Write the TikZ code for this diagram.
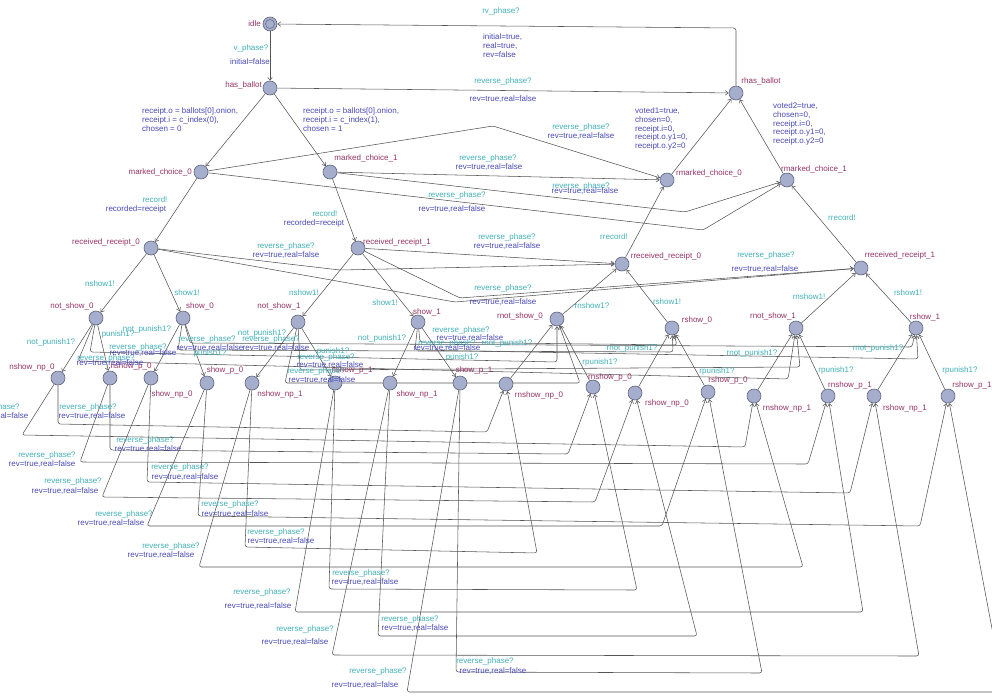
\documentclass[tikz,border=0pt]{standalone}
\usepackage{fontspec}
\setmainfont{Liberation Sans}
\usetikzlibrary{arrows.meta}
\pgfdeclarelayer{bg}
\pgfsetlayers{bg,main}
\definecolor{locfill}{RGB}{166,174,206}
\definecolor{locline}{RGB}{95,100,125}
\definecolor{locname}{RGB}{150,50,100}
\definecolor{synccol}{RGB}{64,176,184}
\definecolor{updcol}{RGB}{72,72,184}
\definecolor{edgecol}{RGB}{85,85,85}
% a reverse_phase? transition label: sync text and update text
\newcommand\revlab[3]{%
  \node[sy] (#1s) at (#2) {reverse\_phase?};
  \node[up] (#1u) at (#3) {rev=true,real=false};}
\begin{document}
\begin{tikzpicture}[x=1pt,y=-1pt,
  font=\fontsize{8}{8.6}\selectfont,
  loc/.style={circle,draw=locline,fill=locfill,line width=0.6pt,minimum size=14pt,inner sep=0pt},
  nm/.style={text=locname,inner sep=0pt},
  sy/.style={text=synccol,inner sep=0pt},
  up/.style={text=updcol,inner sep=0pt,align=left},
  tr/.style={draw=edgecol,line width=0.55pt,-{Straight Barb[length=3pt,width=4.5pt]}},
  lp/.style={tr,rounded corners=2.5pt}]
\useasboundingbox (0,0) rectangle (992,696);
\clip (0,0) rectangle (992,696);

% ---------- forward locations ----------
\node[loc] (idle) at (270,24) {};
\node[circle,draw=locline,line width=0.5pt,minimum size=9pt,inner sep=0pt] (idlec) at (270,24) {};
\node[loc] (hb)   at (270,88) {};
\node[loc] (mc0)  at (201,172) {};
\node[loc] (mc1)  at (330,172) {};
\node[loc] (rr0)  at (151,248) {};
\node[loc] (rr1)  at (358,248) {};
\node[loc] (ns0)  at (96,318) {};
\node[loc] (s0)   at (183,318) {};
\node[loc] (ns1)  at (298,322) {};
\node[loc] (s1)   at (418,322) {};
\node[loc] (nnp0) at (58,378) {};
\node[loc] (np0)  at (110,378) {};
\node[loc] (snp0) at (151,378) {};
\node[loc] (sp0)  at (207,383) {};
\node[loc] (nnp1) at (252,383) {};
\node[loc] (np1)  at (335,383) {};
\node[loc] (snp1) at (390,383) {};
\node[loc] (sp1)  at (460,383) {};
% ---------- reverse locations ----------
\node[loc] (rhb)   at (736,93) {};
\node[loc] (rmc0)  at (667,180) {};
\node[loc] (rmc1)  at (787,180) {};
\node[loc] (rrr0)  at (622,264) {};
\node[loc] (rrr1)  at (861,268) {};
\node[loc] (rns0)  at (557,319) {};
\node[loc] (rs0)   at (672,328) {};
\node[loc] (rns1)  at (796,328) {};
\node[loc] (rs1)   at (916,328) {};
\node[loc] (rnnp0) at (506,384) {};
\node[loc] (rnp0)  at (593,387) {};
\node[loc] (rsnp0) at (635,393) {};
\node[loc] (rsp0)  at (708,392) {};
\node[loc] (rnnp1) at (754,396) {};
\node[loc] (rnp1)  at (828,396) {};
\node[loc] (rsnp1) at (874,396) {};
\node[loc] (rsp1)  at (948,396) {};

% ---------- location names ----------
\node[nm,anchor=east] (tidle) at (261,24) {idle};
\node[nm,anchor=east] (thb) at (262,85) {has\_ballot};
\node[nm,anchor=east] (tmc0) at (192,172) {marked\_choice\_0};
\node[nm] (tmc1) at (366,158) {marked\_choice\_1};
\node[nm] (trr0) at (106,242) {received\_receipt\_0};
\node[nm] (trr1) at (397,242) {received\_receipt\_1};
\node[nm] (tns0) at (72,306) {not\_show\_0};
\node[nm] (ts0) at (200,306) {show\_0};
\node[nm] (tns1) at (279,306) {not\_show\_1};
\node[nm] (ts1) at (427,312) {show\_1};
\node[nm] (tnnp0) at (32,367) {nshow\_np\_0};
\node[nm] (tnp0) at (131,366) {nshow\_p\_0};
\node[nm] (tsnp0) at (172,394) {show\_np\_0};
\node[nm] (tsp0) at (225,370) {show\_p\_0};
\node[nm] (tnnp1) at (280,394) {nshow\_np\_1};
\node[nm] (tnp1) at (352,370) {nshow\_p\_1};
\node[nm] (tsnp1) at (417,394) {show\_np\_1};
\node[nm] (tsp1) at (474,370) {show\_p\_1};
\node[nm] (trhb) at (761,81) {rhas\_ballot};
\node[nm] (trmc0) at (709,173) {rmarked\_choice\_0};
\node[nm] (trmc1) at (814,169) {rmarked\_choice\_1};
\node[nm] (trrr0) at (666,256) {rreceived\_receipt\_0};
\node[nm] (trrr1) at (900,255) {rreceived\_receipt\_1};
\node[nm] (trns0) at (520,316) {rnot\_show\_0};
\node[nm] (trs0) at (697,320) {rshow\_0};
\node[nm] (trns1) at (773,316) {rnot\_show\_1};
\node[nm] (trs1) at (925,317) {rshow\_1};
\node[nm] (trnnp0) at (539,395) {rnshow\_np\_0};
\node[nm] (trnp0) at (610,377) {rnshow\_p\_0};
\node[nm] (trsnp0) at (667,403) {rshow\_np\_0};
\node[nm] (trsp0) at (728,380) {rshow\_p\_0};
\node[nm] (trnnp1) at (787,408) {rnshow\_np\_1};
\node[nm] (trnp1) at (850,385) {rnshow\_p\_1};
\node[nm] (trsnp1) at (905,408) {rshow\_np\_1};
\node[nm] (trsp1) at (972,385) {rshow\_p\_1};

% ---------- transition labels ----------
\node[sy] (l1) at (251,48) {v\_phase?};
\node[up] (l2) at (250,62) {initial=false};
\node[up,anchor=north west] (l3) at (142,108) {receipt.o = ballots[0].onion,\\receipt.i = c\_index(0),\\chosen = 0};
\node[up,anchor=north west] (l4) at (303,108) {receipt.o = ballots[0].onion,\\receipt.i = c\_index(1),\\chosen = 1};
\node[sy] (l5) at (155,200) {record!};
\node[up] (l6) at (136,209) {recorded=receipt};
\node[sy] (l7) at (325,214) {record!};
\node[up] (l8) at (314,223) {recorded=receipt};
\node[sy] (l9) at (100,284) {nshow1!};
\node[sy] (l10) at (187,293) {show1!};
\node[sy] (l11) at (304,293) {nshow1!};
\node[sy] (l12) at (385,303) {show1!};
\node[sy] (l13) at (51,342) {not\_punish1?};
\node[sy] (l14) at (118,334) {punish1?};
\node[sy] (l15) at (147,329) {not\_punish1?};
\node[sy] (l16) at (210,353) {punish1?};
\node[sy] (l17) at (262,333) {not\_punish1?};
\node[sy] (l18) at (333,351) {punish1?};
\node[sy] (l19) at (382,338) {not\_punish1?};
\node[sy] (l20) at (462,357) {punish1?};
\node[sy] (l21) at (501,11) {rv\_phase?};
\node[up,anchor=north west] (l22) at (483,34) {initial=true,\\real=true,\\rev=false};
\node[up,anchor=north west] (l23) at (635,108) {voted1=true,\\chosen=0,\\receipt.i=0,\\receipt.o.y1=0,\\receipt.o.y2=0};
\node[up,anchor=north west] (l24) at (773,103) {voted2=true,\\chosen=0,\\receipt.i=0,\\receipt.o.y1=0,\\receipt.o.y2=0};
\node[sy] (l25) at (614,237) {rrecord!};
\node[sy] (l26) at (842,218) {rrecord!};
\node[sy] (l27) at (592,306) {rnshow1?};
\node[sy] (l28) at (667,302) {rshow1!};
\node[sy] (l29) at (809,297) {rnshow1!};
\node[sy] (l30) at (908,293) {rshow1!};
\node[sy] (l31) at (507,343) {rnot\_punish1?};
\node[sy] (l32) at (600,362) {rpunish1?};
\node[sy] (l33) at (632,348) {rnot\_punish1?};
\node[sy] (l34) at (717,371) {rpunish1?};
\node[sy] (l35) at (752,353) {rnot\_punish1?};
\node[sy] (l36) at (836,370) {rpunish1?};
\node[sy] (l37) at (878,348) {rnot\_punish1?};
\node[sy] (l38) at (960,370) {rpunish1?};
% reverse_phase? labels
\revlab{ra}{503,81}{503,99}
\revlab{rb}{581,127}{581,136}
\revlab{rc}{488,158}{489,167}
\revlab{rd}{581,186}{585,191}
\revlab{re}{457,195}{452,209}
\revlab{rf}{286,246}{286,255}
\revlab{rg}{507,237}{507,246}
\revlab{rh}{503,288}{503,302}
\revlab{ri}{766,255}{765,269}
\revlab{bA}{106,358}{110,363}
\revlab{bB}{138,347}{143,353}
\revlab{bC}{207,339}{210,348}
\revlab{bD}{271,339}{276,348}
\revlab{bE}{326,357}{330,365}
\revlab{bF}{316,371}{322,380}
\revlab{bG}{461,330}{470,338}
\revlab{bH}{447,343}{447,348}
\revlab{q1}{-9,407}{-5,416}
\revlab{q2}{88,407}{92,416}
\revlab{q3}{145,440}{148,449}
\revlab{q4}{47,455}{42,464}
\revlab{q5}{73,481}{65,491}
\revlab{q6}{180,467}{185,477}
\revlab{q7}{124,514}{111,523}
\revlab{q8}{230,504}{235,514}
\revlab{q9}{171,546}{161,555}
\revlab{q10}{276,532}{281,541}
\revlab{q11}{262,592}{258,606}
\revlab{q12}{305,629}{295,642}
\revlab{q13}{361,573}{365,582}
\revlab{q14}{410,619}{415,628}
\revlab{q15}{378,671}{365,685}
\revlab{q16}{485,661}{493,671}

% ---------- transitions ----------
\begin{pgfonlayer}{bg}
\clip (0,0) rectangle (992,696);
% forward tree
\draw[tr] (idle) -- (hb);
\draw[tr] (hb) -- (mc0);
\draw[tr] (hb) -- (mc1);
\draw[tr] (mc0) -- (rr0);
\draw[tr] (mc1) -- (rr1);
\draw[tr] (rr0) -- (ns0);
\draw[tr] (rr0) -- (s0);
\draw[tr] (rr1) -- (ns1);
\draw[tr] (rr1) -- (s1);
\draw[tr] (ns0) -- (nnp0);
\draw[tr] (ns0) -- (np0);
\draw[tr] (s0) -- (snp0);
\draw[tr] (s0) -- (sp0);
\draw[tr] (ns1) -- (nnp1);
\draw[tr] (ns1) -- (np1);
\draw[tr] (s1) -- (snp1);
\draw[tr] (s1) -- (sp1);
% reverse tree
\draw[lp] (rhb) -- (736,28) -- (idle);
\draw[tr] (hb) -- (rhb);
\draw[tr] (rmc0) -- (rhb);
\draw[tr] (rmc1) -- (rhb);
\draw[tr] (rrr0) -- (rmc0);
\draw[tr] (rrr1) -- (rmc1);
\draw[tr] (rns0) -- (rrr0);
\draw[tr] (rs0) -- (rrr0);
\draw[tr] (rns1) -- (rrr1);
\draw[tr] (rs1) -- (rrr1);
\draw[tr] (rnnp0) -- (rns0);
\draw[tr] (rnp0) -- (rns0);
\draw[tr] (rsnp0) -- (rs0);
\draw[tr] (rsp0) -- (rs0);
\draw[tr] (rnnp1) -- (rns1);
\draw[tr] (rnp1) -- (rns1);
\draw[tr] (rsnp1) -- (rs1);
\draw[tr] (rsp1) -- (rs1);
% reverse_phase? jumps, upper levels
\draw[lp] (mc0) -- (493,126) -- (rmc0);
\draw[tr] (mc1) -- (rmc0);
\draw[lp] (mc1) -- (685,212) -- (rmc1);
\draw[lp] (mc0) -- (703,230) -- (rmc1);
\draw[tr] (rr1) -- (rrr0);
\draw[lp] (rr0) -- (340,270) -- (rrr0);
\draw[lp] (rr0) -- (455,302) -- (rrr1);
\draw[lp] (rr1) -- (460,298) -- (rrr1);
% reverse_phase? jumps, show level
\draw[lp] (ns0) -- (90,352) -- (557,362) -- (rns0);
\draw[lp] (ns0) -- (78,361) -- (788,379) -- (rns1);
\draw[lp] (s0) -- (178,350) -- (673,352) -- (rs0);
\draw[lp] (s0) -- (190,343) -- (912,347) -- (rs1);
\draw[lp] (ns1) -- (285,383) -- (580,383) -- (rns0);
\draw[lp] (ns1) -- (300,370) -- (800,367) -- (rns1);
\draw[lp] (s1) -- (420,342) -- (677,345) -- (rs0);
\draw[lp] (s1) -- (415,350) -- (918,359) -- (rs1);
% reverse_phase? jumps, punish level
\draw[lp] (nnp0) -- (58,424) -- (487,432) -- (rnnp0);
\draw[lp] (nnp0) -- (22,435) -- (745,447) -- (rnnp1);
\draw[lp] (np0) -- (110,450) -- (568,454) -- (rnp0);
\draw[lp] (np0) -- (80,462) -- (808,464) -- (rnp1);
\draw[lp] (snp0) -- (147,482) -- (850,493) -- (rsnp1);
\draw[lp] (snp0) -- (102,497) -- (595,502) -- (rsnp0);
\draw[lp] (sp0) -- (198,516) -- (920,526) -- (rsp1);
\draw[lp] (sp0) -- (147,526) -- (662,526) -- (rsp0);
\draw[lp] (nnp1) -- (245,547) -- (537,553) -- (rnnp0);
\draw[lp] (nnp1) -- (199,567) -- (803,567) -- (rnnp1);
\draw[lp] (np1) -- (329,589) -- (637,590) -- (rnp0);
\draw[lp] (np1) -- (295,612) -- (863,612) -- (rnp1);
\draw[lp] (snp1) -- (378,636) -- (697,636) -- (rsnp0);
\draw[lp] (snp1) -- (332,655) -- (919,656) -- (rsnp1);
\draw[lp] (sp1) -- (456,672) -- (762,673) -- (rsp0);
\draw[lp] (sp1) -- (407,692) -- (1004,692) -- (rsp1);
\end{pgfonlayer}
\end{tikzpicture}
\end{document}
